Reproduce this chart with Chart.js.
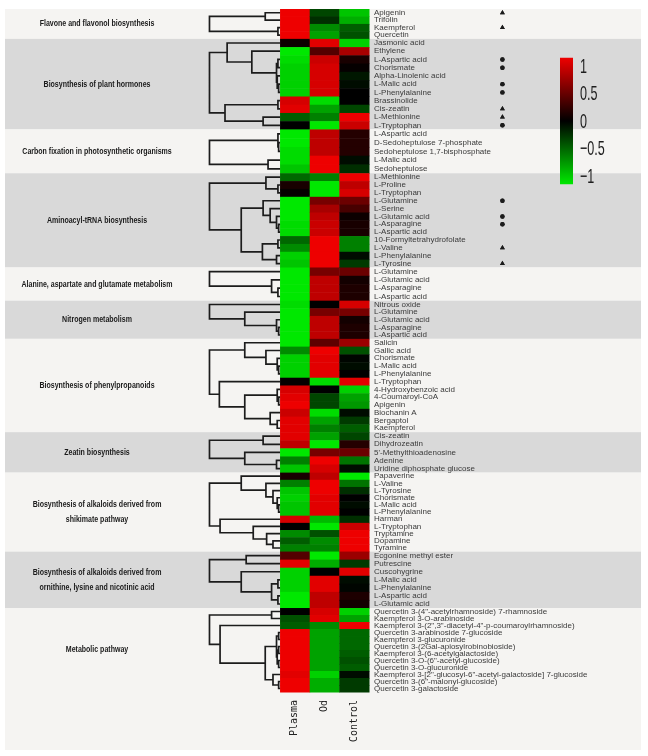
<!DOCTYPE html>
<html>
<head>
<meta charset="utf-8">
<script src="https://cdn.jsdelivr.net/npm/chart.js@4.4.1/dist/chart.umd.min.js"></script>
<style>
  html, body { margin: 0; padding: 0; background: #fff; }
  #wrap { width: 648px; height: 756px; position: relative; }
</style>
</head>
<body>
<div id="wrap"><canvas id="heatmap"></canvas></div>
<script>
// ==============================
// Dados
// ==============================
const columns = ["Plasma", "Od", "Control"];

const pathways = [
  "Flavone and flavonol biosynthesis",
  "Biosynthesis of plant hormones",
  "Carbon fixation in photosynthetic organisms",
  "Aminoacyl-tRNA biosynthesis",
  "Alanine, aspartate and glutamate metabolism",
  "Nitrogen metabolism",
  "Biosynthesis of phenylpropanoids",
  "Zeatin biosynthesis",
  "Biosynthesis of alkaloids derived from\nshikimate pathway",
  "Biosynthesis of alkaloids derived from\nornithine, lysine and nicotinic acid",
  "Metabolic pathway",
];

const metabolites = [
  ["Apigenin", "Trifolin", "Kaempferol", "Quercetin"],
  ["Jasmonic acid", "Ethylene", "L-Aspartic acid", "Chorismate", "Alpha-Linolenic acid", "L-Malic acid",
   "L-Phenylalanine", "Brassinolide", "Cis-zeatin", "L-Methionine", "L-Tryptophan"],
  ["L-Aspartic acid", "D-Sedoheptulose 7-phosphate", "Sedoheptulose 1,7-bisphosphate", "L-Malic acid", "Sedoheptulose"],
  ["L-Methionine", "L-Proline", "L-Tryptophan", "L-Glutamine", "L-Serine", "L-Glutamic acid", "L-Asparagine",
   "L-Aspartic acid", "10-Formyltetrahydrofolate", "L-Valine", "L-Phenylalanine", "L-Tyrosine"],
  ["L-Glutamine", "L-Glutamic acid", "L-Asparagine", "L-Aspartic acid"],
  ["Nitrous oxide", "L-Glutamine", "L-Glutamic acid", "L-Asparagine", "L-Aspartic acid"],
  ["Salicin", "Gallic acid", "Chorismate", "L-Malic acid", "L-Phenylalanine", "L-Tryptophan", "4-Hydroxybenzoic acid",
   "4-Coumaroyl-CoA", "Apigenin", "Biochanin A", "Bergaptol", "Kaempferol"],
  ["Cis-zeatin", "Dihydrozeatin", "5'-Methylthioadenosine", "Adenine", "Uridine diphosphate glucose"],
  ["Papaverine", "L-Valine", "L-Tyrosine", "Chorismate", "L-Malic acid", "L-Phenylalanine", "Harman", "L-Tryptophan",
   "Tryptamine", "Dopamine", "Tyramine"],
  ["Ecgonine methyl ester", "Putrescine", "Cuscohygrine", "L-Malic acid", "L-Phenylalanine", "L-Aspartic acid", "L-Glutamic acid"],
  ["Quercetin 3-(4\"-acetylrhamnoside) 7-rhamnoside", "Kaempferol 3-O-arabinoside",
   "Kaempferol 3-(2\",3\"-diacetyl-4\"-p-coumaroylrhamnoside)", "Quercetin 3-arabinoside 7-glucoside",
   "Kaempferol 3-glucuronide", "Quercetin 3-(2Gal-apiosylrobinobioside)", "Kaempferol 3-(6-acetylgalactoside)",
   "Quercetin 3-O-(6\"-acetyl-glucoside)", "Quercetin 3-O-glucuronide",
   "Kaempferol 3-[2\"-glucosyl-6\"-acetyl-galactoside] 7-glucoside", "Quercetin 3-(6\"-malonyl-glucoside)",
   "Quercetin 3-galactoside"],
];

// escala: -1 (verde) .. 1 (vermelho)
const plasma = [
  [1, 1, 1, 1],
  [0.05, -1, -0.95, -0.9, -0.9, -0.9, -0.9, 0.9, 0.95, -0.4, 0],
  [-1, -1, -0.95, -0.95, -0.85],
  [-0.45, 0.1, 0.02, -1, -1, -1, -0.95, -0.95, -0.45, -0.6, -0.9, -0.85],
  [-1, -1, -1, -1],
  [-0.95, -1, -1, -1, -1],
  [-1, -0.6, -0.9, -0.9, -0.9, 0.02, 0.9, 0.95, 1, 0.85, 0.95, 0.95],
  [0.95, 0.8, -1, -0.55, -0.85],
  [0.1, -0.55, -0.85, -0.9, -0.85, -0.85, 0.9, 0, -0.6, -0.4, -0.55],
  [0.35, 0.95, -0.9, -0.9, -0.9, -1, -1],
  [0, -0.35, -0.4, 1, 1, 1, 1, 1, 1, 0.95, 1, 1],
];

const od = [
  [-0.3, -0.2, -0.6, -0.7],
  [0.95, 0.35, 0.85, 0.9, 0.9, 0.9, 0.9, -0.95, -0.7, -0.55, -1],
  [0.8, 0.8, 0.8, 1, 1],
  [-0.55, -1, -1, 0.5, 0.7, 0.8, 0.85, 0.85, 1, 1, 1, 1],
  [0.5, 0.8, 0.8, 0.8],
  [0, 0.5, 0.8, 0.8, 0.8],
  [0.4, 1, 0.95, 0.95, 0.95, -0.95, 0, -0.3, -0.3, -0.95, -0.7, -0.55],
  [-0.7, -1, 0.5, 1, 0.9],
  [0.8, 1, 1, 0.95, 0.95, 0.95, -0.8, -1, -0.35, -0.6, -0.55],
  [-1, -0.75, 0, 0.95, 0.95, 0.8, 0.8],
  [0.9, 0.95, -0.6, -0.7, -0.7, -0.7, -0.7, -0.7, -0.7, -0.9, -0.75, -0.75],
];

const control = [
  [-0.85, -0.75, -0.4, -0.35],
  [-0.9, 0.7, 0.1, 0.02, -0.1, -0.05, 0, 0, -0.3, 1, 0.85],
  [0.15, 0.15, 0.15, -0.05, -0.2],
  [1, 0.8, 0.9, 0.45, 0.3, 0.05, 0.1, 0.1, -0.55, -0.55, -0.05, -0.25],
  [0.45, 0.08, 0.12, 0.12],
  [0.9, 0.5, 0.08, 0.12, 0.12],
  [0.65, -0.35, -0.02, -0.05, 0, 0.95, -0.9, -0.7, -0.65, -0.05, -0.25, -0.4],
  [-0.3, 0.15, 0.45, -0.5, -0.05],
  [-1, -0.5, -0.2, 0, -0.05, 0, -0.2, 0.85, 1, 1, 1],
  [0.65, -0.25, 0.95, -0.05, -0.02, 0.12, 0.08],
  [-0.9, -0.7, 1, -0.45, -0.45, -0.45, -0.4, -0.35, -0.4, -0.05, -0.25, -0.25],
];

// dendrogramas: [altura, esquerda, direita], folhas = indice da linha no grupo
const trees = [
  [1, [0.21, 0, 1], [0.03, 2, 3]],
  [1, [0.75, 0, [0.4, 1, [0.05, [0.03, 2, 3], [0.04, 4, [0.02, 5, 6]]]]], [0.78, [0.03, 7, 8], [0.24, 9, 10]]],
  [1, [0.03, 0, [0.02, 1, 2]], [0.17, 3, 4]],
  [1, [0.2, 0, [0.03, 1, 2]], [0.55, [0.24, 3, [0.14, 4, [0.05, 5, [0.02, 6, 7]]]], [0.25, [0.03, 8, 9], [0.05, 10, 11]]]],
  [1, 0, [0.12, 1, [0.03, 2, 3]]],
  [1, 0, [0.5, 1, [0.05, 2, [0.02, 3, 4]]]],
  [1, [0.5, 0, [0.2, 1, [0.04, 2, [0.02, 3, 4]]]], [0.86, 5, [0.5, [0.04, 6, [0.02, 7, 8]], [0.14, 9, [0.04, 10, 11]]]]],
  [1, [0.24, 0, 1], [0.5, 2, [0.05, 3, 4]]],
  [1, [0.55, 0, [0.2, 1, [0.1, 2, [0.04, 3, [0.02, 4, 5]]]]], [0.85, 6, [0.38, 7, [0.19, 8, [0.1, 9, 10]]]]],
  [1, [0.48, 0, 1], [0.55, 2, [0.12, [0.03, 3, 4], [0.03, 5, 6]]]],
  [1, [0.12, 0, 1], [0.85, 2, [0.21, [0.05, [0.02, 3, 4], [0.04, [0.02, 5, 6], [0.02, 7, 8]]], [0.1, 9, [0.02, 10, 11]]]]],
];

// [grupo, linha, simbolo]
const markers = [
  [0, 0, "triangle"], [0, 2, "triangle"],
  [1, 2, "circle"], [1, 3, "circle"], [1, 5, "circle"], [1, 6, "circle"],
  [1, 8, "triangle"], [1, 9, "triangle"], [1, 10, "circle"],
  [3, 3, "circle"], [3, 5, "circle"], [3, 6, "circle"], [3, 9, "triangle"], [3, 11, "triangle"],
];

const legendTicks = [1, 0.5, 0, -0.5, -1];

// ==============================
// Layout
// ==============================
const DENDRO_W = 2.38;   // largura do dendrograma em colunas
const X_MIN = -2.43;
const MARKER_X = 7.5;
// altura relativa das linhas em cada bloco (a figura original nao e uniforme)
const rowHeight = [7.5, 8.27, 8.8, 7.89, 8.33, 7.67, 7.81, 8.13, 7.21, 8.1, 7.03];

const starts = [];
const rowTop = [];
const rowCenter = [];
const groupTop = [];
let idx = 0;
let pos = 0;
metabolites.forEach((m, g) => {
  starts.push(idx);
  groupTop.push(pos);
  m.forEach(() => {
    rowTop.push(pos);
    rowCenter.push(pos + rowHeight[g] / 2);
    pos += rowHeight[g];
    idx++;
  });
});
const Y_TOTAL = pos;
groupTop.push(pos);
rowTop.push(pos);

const rowLabels = metabolites.flat();
const cells = [plasma, od, control].map((c) => c.flat());

function heatColor(v) {
  const t = Math.max(-1, Math.min(1, v));
  return t >= 0
    ? `rgb(${Math.round(238 * t)},0,0)`
    : `rgb(0,${Math.round(232 * -t)},0)`;
}

function walk(node, offset, pts) {
  if (typeof node === "number") return { y: rowCenter[offset + node], h: 0 };
  const [h, a, b] = node;
  const l = walk(a, offset, pts);
  const r = walk(b, offset, pts);
  pts.push(
    { x: -l.h * DENDRO_W, y: l.y }, { x: -h * DENDRO_W, y: l.y },
    { x: -h * DENDRO_W, y: r.y }, { x: -r.h * DENDRO_W, y: r.y },
    { x: NaN, y: NaN }
  );
  return { y: (l.y + r.y) / 2, h };
}

const dendroSets = trees.map((t, g) => {
  const pts = [];
  walk(t, starts[g], pts);
  return {
    data: pts, showLine: true, spanGaps: false, pointRadius: 0,
    borderColor: "#1c1c1c", borderWidth: 1.7, borderJoinStyle: "miter", clip: false,
  };
});

function drawCondensed(ctx, text, x, y, sx) {
  ctx.save();
  ctx.translate(x, y);
  ctx.scale(sx, 1);
  ctx.fillText(text, 0, 0);
  ctx.restore();
}

// ==============================
// Plugin: faixas, celulas, simbolos, legenda
// ==============================
const heatmapPlugin = {
  id: "heatmap",
  beforeDraw(chart) {
    const { ctx, scales: { y } } = chart;
    ctx.save();
    ctx.fillStyle = "#fff";
    ctx.fillRect(0, 0, chart.width, chart.height);
    pathways.forEach((p, g) => {
      const y0 = y.getPixelForValue(groupTop[g]);
      let y1 = y.getPixelForValue(groupTop[g + 1]);
      if (g === pathways.length - 1) y1 = chart.height - 6;
      ctx.fillStyle = g % 2 === 0 ? "#f5f4f2" : "#d9d9d9";
      ctx.fillRect(5, y0, 636, y1 - y0);
    });
    ctx.restore();
  },
  beforeDatasetsDraw(chart) {
    const { ctx, scales: { x, y } } = chart;
    ctx.save();
    cells.forEach((col, c) => {
      const x0 = x.getPixelForValue(c);
      const x1 = x.getPixelForValue(c + 1);
      col.forEach((v, i) => {
        const y0 = y.getPixelForValue(rowTop[i]);
        const y1 = y.getPixelForValue(rowTop[i + 1]);
        ctx.fillStyle = heatColor(v);
        ctx.fillRect(x0, y0, x1 - x0 + 0.5, y1 - y0 + 0.5);
      });
    });

    // nomes das vias
    ctx.fillStyle = "#1a1a1a";
    ctx.font = "bold 9px 'Liberation Sans', Arial, sans-serif";
    ctx.textAlign = "center";
    ctx.textBaseline = "middle";
    pathways.forEach((p, g) => {
      const mid = y.getPixelForValue((groupTop[g] + groupTop[g + 1]) / 2);
      const lines = p.split("\n");
      lines.forEach((ln, k) => {
        drawCondensed(ctx, ln, 97, mid + (k - (lines.length - 1) / 2) * 15, 0.78);
      });
    });

    // simbolos
    ctx.fillStyle = "#1c1c1c";
    const mx = x.getPixelForValue(MARKER_X);
    markers.forEach(([g, r, shape]) => {
      const my = y.getPixelForValue(rowCenter[starts[g] + r]);
      Chart.helpers.drawPoint(ctx, {
        pointStyle: shape, radius: shape === "triangle" ? 2.8 : 2.2, borderWidth: 0,
      }, mx, my);
      ctx.fill();
    });
    ctx.restore();
  },
  afterDraw(chart) {
    const { ctx } = chart;
    const cb = { x: 560, w: 13, mid: 121, unit: 55, ext: 1.15 };
    const top = cb.mid - cb.ext * cb.unit;
    const bot = cb.mid + cb.ext * cb.unit;
    ctx.save();
    const grad = ctx.createLinearGradient(0, top, 0, bot);
    grad.addColorStop(0, heatColor(1));
    grad.addColorStop(0.5, "#000");
    grad.addColorStop(1, heatColor(-1));
    ctx.fillStyle = grad;
    ctx.fillRect(cb.x, top, cb.w, bot - top);
    ctx.fillStyle = "#1e1e1e";
    ctx.font = "21px 'Liberation Sans', Arial, sans-serif";
    ctx.textAlign = "left";
    ctx.textBaseline = "middle";
    legendTicks.forEach((v) => {
      const txt = v < 0 ? "\u2212" + Math.abs(v) : String(v);
      drawCondensed(ctx, txt, 580, cb.mid - v * cb.unit + 1, 0.6);
    });
    ctx.restore();
  },
};

// ==============================
// Grafico
// ==============================
new Chart(document.getElementById("heatmap"), {
  type: "scatter",
  data: { datasets: dendroSets },
  options: {
    responsive: true,
    maintainAspectRatio: false,
    animation: false,
    events: [],
    layout: { padding: { left: 208, top: 6, right: 0, bottom: 0 } },
    plugins: { legend: { display: false }, tooltip: { enabled: false } },
    scales: {
      x: {
        type: "linear",
        min: X_MIN,
        max: columns.length,
        afterBuildTicks: (s) => { s.ticks = columns.map((_, i) => ({ value: i + 0.5 })); },
        afterFit: (s) => { s.height = 64; },
        grid: { display: false, drawTicks: false },
        border: { display: false },
        ticks: {
          autoSkip: false, minRotation: 90, maxRotation: 90, padding: 8, color: "#222",
          font: { family: "'DejaVu Sans Mono', monospace", size: 10 },
          callback: (v) => columns[Math.floor(v)],
        },
      },
      y: {
        type: "linear",
        position: "right",
        reverse: true,
        min: 0,
        max: Y_TOTAL,
        afterBuildTicks: (s) => { s.ticks = rowCenter.map((v) => ({ value: v })); },
        afterFit: (s) => { s.width = 279; },
        grid: { display: false, drawTicks: false },
        border: { display: false },
        ticks: {
          autoSkip: false, padding: 5, color: "#3a3a3a",
          font: { family: "'Liberation Sans', Arial, sans-serif", size: 8, lineHeight: 1 },
          callback: (v, i) => rowLabels[i],
        },
      },
    },
  },
  plugins: [heatmapPlugin],
});
</script>
</body>
</html>
